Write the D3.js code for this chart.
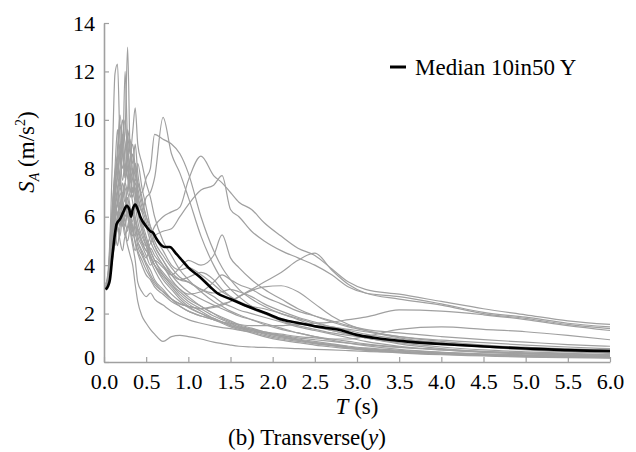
<!DOCTYPE html>
<html><head><meta charset="utf-8">
<script src="https://cdn.jsdelivr.net/npm/d3@7"></script>
<style>
html,body{margin:0;padding:0;background:#fff;}
svg{display:block;}
svg text{font-family:"Liberation Serif","DejaVu Serif","Times New Roman",serif;}
</style></head>
<body>
<div id="chart"></div>
<script>
// Shared period grid (s) for the individual records
const periods = [0.02,0.05,0.08,0.1,0.13,0.16,0.19,0.22,0.25,0.28,0.31,0.34,0.37,0.4,0.45,0.5,0.55,0.6,0.7,0.8,0.9,1.0,1.15,1.3,1.4,1.5,1.6,1.75,1.9,2.1,2.3,2.5,2.7,2.9,3.1,3.5,4.0,4.5,5.0,5.5,6.0];

// Individual ground-motion spectra S_A (m/s^2)
const records = [
 [3.1,3.6,5.5,6.5,7.8,8.5,7.2,8.8,9.5,13.0,8.6,7.8,8.2,7.0,6.2,5.6,5.0,4.6,4.0,3.4,3.0,2.7,2.3,2.0,1.85,1.7,1.55,1.4,1.25,1.1,0.95,0.85,0.75,0.65,0.58,0.48,0.4,0.34,0.3,0.27,0.24],
 [3.2,3.8,6.0,8.5,11.9,12.3,9.0,7.5,8.2,7.6,6.8,7.2,6.5,5.8,5.2,4.8,4.4,4.0,3.5,3.1,2.7,2.4,2.1,1.8,1.65,1.5,1.4,1.25,1.1,0.95,0.85,0.75,0.68,0.6,0.52,0.42,0.34,0.28,0.24,0.21,0.18],
 [3.0,3.5,5.0,6.2,7.5,8.0,9.0,8.5,12.0,9.0,8.0,7.0,7.6,6.6,5.8,5.2,4.6,4.2,3.6,3.2,2.8,2.5,2.2,1.9,1.75,1.6,1.45,1.3,1.15,1.0,0.9,0.8,0.72,0.62,0.55,0.45,0.37,0.3,0.26,0.22,0.2],
 [3.1,3.4,4.5,5.5,6.8,7.6,8.4,8.0,8.8,9.3,8.6,9.5,10.5,9.0,8.2,7.4,6.8,6.0,5.0,4.4,3.8,3.4,2.9,2.5,2.3,2.1,1.95,1.75,1.55,1.35,1.2,1.05,0.95,0.85,0.75,0.62,0.52,0.44,0.38,0.34,0.3],
 [3.0,3.3,4.2,4.8,5.5,6.0,6.5,7.0,6.6,7.2,7.8,7.0,7.4,6.8,6.2,6.8,7.0,7.6,10.1,8.6,7.8,6.8,5.2,4.0,3.4,3.0,2.7,2.3,2.0,1.7,1.5,1.35,1.2,1.1,1.0,0.85,0.72,0.62,0.55,0.5,0.45],
 [3.1,3.5,4.6,5.2,6.0,6.6,7.2,6.8,7.4,8.0,7.0,7.6,8.2,7.4,7.0,7.6,8.0,9.4,9.2,9.0,8.6,7.8,6.0,4.6,3.9,3.4,3.0,2.6,2.3,2.0,1.8,1.6,1.45,1.35,1.25,1.05,0.9,0.8,0.7,0.62,0.55],
 [3.0,3.2,3.8,4.2,5.0,5.6,5.2,6.0,5.6,6.2,5.8,5.4,5.9,5.5,5.0,4.8,5.2,5.6,6.0,6.2,6.4,7.5,8.5,7.7,7.4,7.0,6.6,6.3,5.75,5.2,4.7,4.4,3.85,3.3,3.0,2.8,2.5,2.2,1.95,1.7,1.55],
 [3.0,3.3,4.0,4.6,5.2,4.8,5.6,6.2,5.8,5.4,6.0,5.6,5.2,5.5,5.0,4.6,4.9,5.2,5.4,5.5,6.0,6.5,7.1,7.3,7.7,6.3,6.0,5.4,5.0,4.6,4.3,4.0,3.6,3.1,2.85,2.7,2.4,2.05,1.85,1.6,1.45],
 [3.0,3.4,4.5,5.5,6.5,7.0,6.2,7.4,6.8,6.0,5.6,6.2,5.8,5.2,4.8,4.4,4.0,4.2,3.9,3.6,3.9,4.2,4.0,4.4,5.25,4.3,3.9,3.4,3.0,2.6,2.2,1.9,1.65,1.45,1.3,1.05,0.85,0.7,0.6,0.52,0.45],
 [3.0,3.3,4.4,5.0,6.2,7.0,7.6,6.8,6.2,6.8,6.0,5.4,5.0,4.6,4.2,3.8,3.5,3.2,2.9,2.6,2.4,2.3,2.2,2.3,2.4,2.5,2.7,3.0,3.3,3.7,4.2,4.5,3.8,3.2,2.85,2.6,2.35,2.0,1.8,1.55,1.38],
 [3.0,3.2,3.8,4.3,5.0,5.6,6.2,5.8,5.2,5.6,6.0,5.5,4.9,4.5,4.0,3.6,3.4,3.1,2.8,2.5,2.3,2.1,1.9,1.75,1.65,1.6,1.55,1.5,1.5,1.5,1.55,1.6,1.65,1.75,1.85,2.15,2.1,1.95,1.75,1.5,1.3],
 [3.0,3.3,4.0,4.8,5.8,6.5,6.0,6.8,7.2,6.4,5.8,5.2,5.6,5.0,4.5,4.1,3.8,3.4,3.0,2.6,2.3,2.1,1.9,1.75,1.65,1.55,1.45,1.35,1.25,1.15,1.05,1.0,0.95,0.95,1.05,1.35,1.45,1.35,1.25,1.1,0.92],
 [3.0,3.3,4.5,5.2,4.8,5.6,5.0,4.6,5.2,4.8,4.4,4.0,3.2,2.5,1.9,1.6,1.35,1.15,0.85,1.05,1.1,1.05,0.95,0.82,0.76,0.7,0.65,0.62,0.6,0.58,0.55,0.52,0.5,0.47,0.44,0.4,0.35,0.3,0.26,0.23,0.2],
 [3.0,3.4,4.6,5.5,6.6,6.0,7.0,6.4,5.8,6.2,5.4,4.8,4.2,3.3,2.9,2.7,2.85,2.6,2.35,2.1,1.9,1.75,1.6,1.48,1.42,1.38,1.32,1.25,1.2,1.1,1.0,0.92,0.85,0.78,0.72,0.6,0.5,0.42,0.36,0.32,0.28],
 [3.1,3.5,4.8,5.8,7.0,8.2,7.5,8.8,7.6,8.4,9.2,7.8,7.0,6.4,5.6,5.0,4.6,4.2,3.7,3.3,3.0,2.8,2.9,3.3,3.6,3.4,3.2,3.0,2.7,2.4,2.1,1.9,1.7,1.5,1.35,1.2,1.05,0.92,0.82,0.72,0.65],
 [3.0,3.2,4.0,4.6,5.4,6.0,6.6,6.0,5.4,5.0,5.6,6.2,5.4,4.8,4.4,4.0,3.6,3.3,2.9,2.6,2.4,2.3,2.2,2.25,2.35,2.5,2.7,2.95,3.1,3.15,2.9,2.4,1.9,1.55,1.3,1.0,0.78,0.62,0.5,0.42,0.36],
 [3.0,3.6,5.2,6.4,8.0,9.6,8.4,9.2,10.0,8.6,7.4,8.0,7.0,6.2,5.4,4.8,4.2,3.8,3.2,2.8,2.5,2.25,2.0,1.75,1.6,1.45,1.35,1.2,1.05,0.9,0.8,0.7,0.62,0.55,0.48,0.38,0.3,0.25,0.2,0.18,0.16],
 [3.1,3.4,4.2,5.0,6.4,7.2,8.0,9.4,8.2,7.6,8.4,9.0,8.0,7.2,6.4,5.8,5.2,4.8,4.2,3.7,3.4,3.3,3.0,2.7,2.45,2.3,2.15,2.0,1.85,1.65,1.45,1.3,1.15,1.0,0.85,0.65,0.5,0.4,0.33,0.28,0.24],
 [3.0,3.3,4.6,5.6,7.2,8.8,10.2,9.0,7.6,8.6,7.8,6.8,7.2,6.4,5.6,5.0,4.4,4.0,3.4,3.0,2.6,2.3,2.0,1.8,1.65,1.5,1.4,1.3,1.2,1.05,0.92,0.8,0.7,0.6,0.52,0.42,0.34,0.28,0.24,0.21,0.19],
 [3.0,3.2,3.9,4.4,5.0,5.6,6.2,5.6,6.4,7.0,6.4,5.8,6.6,7.4,6.6,6.0,5.6,5.0,4.4,3.9,3.5,3.3,3.0,2.85,2.9,3.0,2.9,2.7,2.4,2.1,1.85,1.65,1.45,1.3,1.15,0.95,0.8,0.68,0.6,0.55,0.5],
 [3.2,3.6,5.0,6.0,7.4,8.4,9.8,8.6,7.8,9.6,8.8,8.2,9.0,7.8,6.8,6.0,5.4,4.8,4.2,3.6,3.2,2.9,2.6,2.35,2.2,2.05,1.9,1.75,1.6,1.4,1.2,1.05,0.9,0.78,0.68,0.52,0.4,0.32,0.27,0.23,0.2],
 [3.0,3.3,4.2,5.0,5.8,6.2,5.6,6.8,7.4,7.0,7.8,8.6,7.6,8.2,7.2,6.4,5.6,5.2,4.6,4.0,3.8,3.9,3.6,3.2,2.9,2.7,2.5,2.3,2.2,2.0,1.75,1.5,1.3,1.15,1.0,0.8,0.62,0.5,0.42,0.36,0.3],
 [3.0,3.4,4.4,5.2,6.0,6.6,7.4,6.6,6.0,6.4,5.6,5.0,4.6,4.9,4.6,4.3,4.7,4.4,4.0,3.6,3.4,3.5,3.7,3.4,3.0,2.7,2.45,2.2,2.0,1.8,1.6,1.45,1.3,1.15,1.0,0.75,0.55,0.42,0.35,0.3,0.26],
 [3.1,3.5,4.8,5.6,6.8,7.8,8.6,10.0,9.0,8.0,7.2,6.6,6.0,5.4,4.9,4.6,4.3,4.0,3.6,3.2,2.9,2.6,2.3,2.0,1.8,1.65,1.5,1.35,1.2,1.05,0.9,0.78,0.68,0.58,0.5,0.4,0.32,0.27,0.23,0.2,0.18]
];

// Median spectrum
const medianPeriods = [0.02,0.05,0.07,0.1,0.13,0.15,0.19,0.23,0.27,0.3,0.32,0.34,0.37,0.4,0.43,0.5,0.55,0.58,0.62,0.66,0.72,0.78,0.85,0.9,1.0,1.14,1.26,1.34,1.5,1.7,1.93,2.12,2.32,2.53,2.8,3.0,3.2,3.63,4.1,4.62,5.0,5.41,6.0];
const medianValues = [3.0,3.15,3.4,4.4,5.3,5.7,5.9,6.2,6.45,6.3,6.0,6.3,6.5,6.3,6.0,5.6,5.4,5.35,5.1,4.9,4.75,4.75,4.5,4.3,3.9,3.5,3.1,2.85,2.6,2.3,2.0,1.74,1.6,1.46,1.32,1.12,1.0,0.83,0.72,0.62,0.56,0.5,0.45];

const xTicks = [0,0.5,1,1.5,2,2.5,3,3.5,4,4.5,5,5.5,6];
const yTicks = [0,2,4,6,8,10,12,14];
const legendLabel = "Median 10in50 Y";

const FONT = "'Liberation Serif','DejaVu Serif','Times New Roman',serif";
const W = 636, H = 452;
const m = {left:104, right:26, top:23, bottom:90};
const svg = d3.select("#chart").append("svg").attr("width",W).attr("height",H)
  .attr("font-family",FONT);

const x = d3.scaleLinear().domain([0,6]).range([m.left, W-m.right]);
const y = d3.scaleLinear().domain([0,14]).range([H-m.bottom, m.top]);

const axisColor = "#a0a0a0";

// Axes
const gx = svg.append("g").attr("transform",`translate(0,${y(0)})`)
  .call(d3.axisBottom(x).tickValues(xTicks).tickFormat(d3.format(".1f")).tickSizeInner(-5).tickSizeOuter(0).tickPadding(11));
const gy = svg.append("g").attr("transform",`translate(${x(0)},0)`)
  .call(d3.axisLeft(y).tickValues(yTicks).tickFormat(d3.format("d")).tickSizeInner(-5).tickSizeOuter(0).tickPadding(9));
[gx,gy].forEach(g=>{
  g.attr("font-family",FONT).attr("font-size",22);
  g.select(".domain").attr("stroke",axisColor).attr("stroke-width",1.6);
  g.selectAll(".tick line").attr("stroke",axisColor).attr("stroke-width",1.2);
  g.selectAll(".tick text").attr("fill","#000").attr("font-size",22).attr("font-family",FONT);
});
// nudge the "0" label up slightly, as in the reference
gy.selectAll(".tick").filter(d=>d===0).select("text").attr("dy","0.12em");

// Lines
const line = d3.line().x(d=>x(d[0])).y(d=>y(d[1])).curve(d3.curveMonotoneX);
const plot = svg.append("g");
records.forEach(vals=>{
  plot.append("path")
    .datum(periods.map((t,i)=>[t,vals[i]]))
    .attr("d",line).attr("fill","none")
    .attr("stroke","#a0a0a0").attr("stroke-width",1.2).attr("stroke-linejoin","round");
});
plot.append("path")
  .datum(medianPeriods.map((t,i)=>[t,medianValues[i]]))
  .attr("d",line).attr("fill","none")
  .attr("stroke","#000").attr("stroke-width",2.6).attr("stroke-linejoin","round");

// Legend
svg.append("line").attr("x1",390).attr("x2",406).attr("y1",67).attr("y2",67)
  .attr("stroke","#000").attr("stroke-width",3);
svg.append("text").attr("x",415).attr("y",75).attr("font-size",23).attr("fill","#000").text(legendLabel);

// Axis titles
const xt = svg.append("text").attr("x",(x(0)+x(6))/2).attr("y",414).attr("text-anchor","middle").attr("font-size",23);
xt.append("tspan").attr("font-style","italic").text("T");
xt.append("tspan").text(" (s)");

const yt = svg.append("text").attr("transform","translate(34,152) rotate(-90)").attr("text-anchor","middle").attr("font-size",23);
yt.append("tspan").attr("font-style","italic").text("S");
yt.append("tspan").attr("font-style","italic").attr("font-size",14).attr("dy",5).text("A");
yt.append("tspan").attr("dy",-5).text(" (m/s");
yt.append("tspan").attr("font-size",14).attr("dy",-9).text("2");
yt.append("tspan").attr("dy",9).text(")");

// Caption
const cap = svg.append("text").attr("x",307).attr("y",445).attr("text-anchor","middle").attr("font-size",23);
cap.append("tspan").text("(b) Transverse(");
cap.append("tspan").attr("font-style","italic").text("y");
cap.append("tspan").text(")");
</script>
</body></html>
